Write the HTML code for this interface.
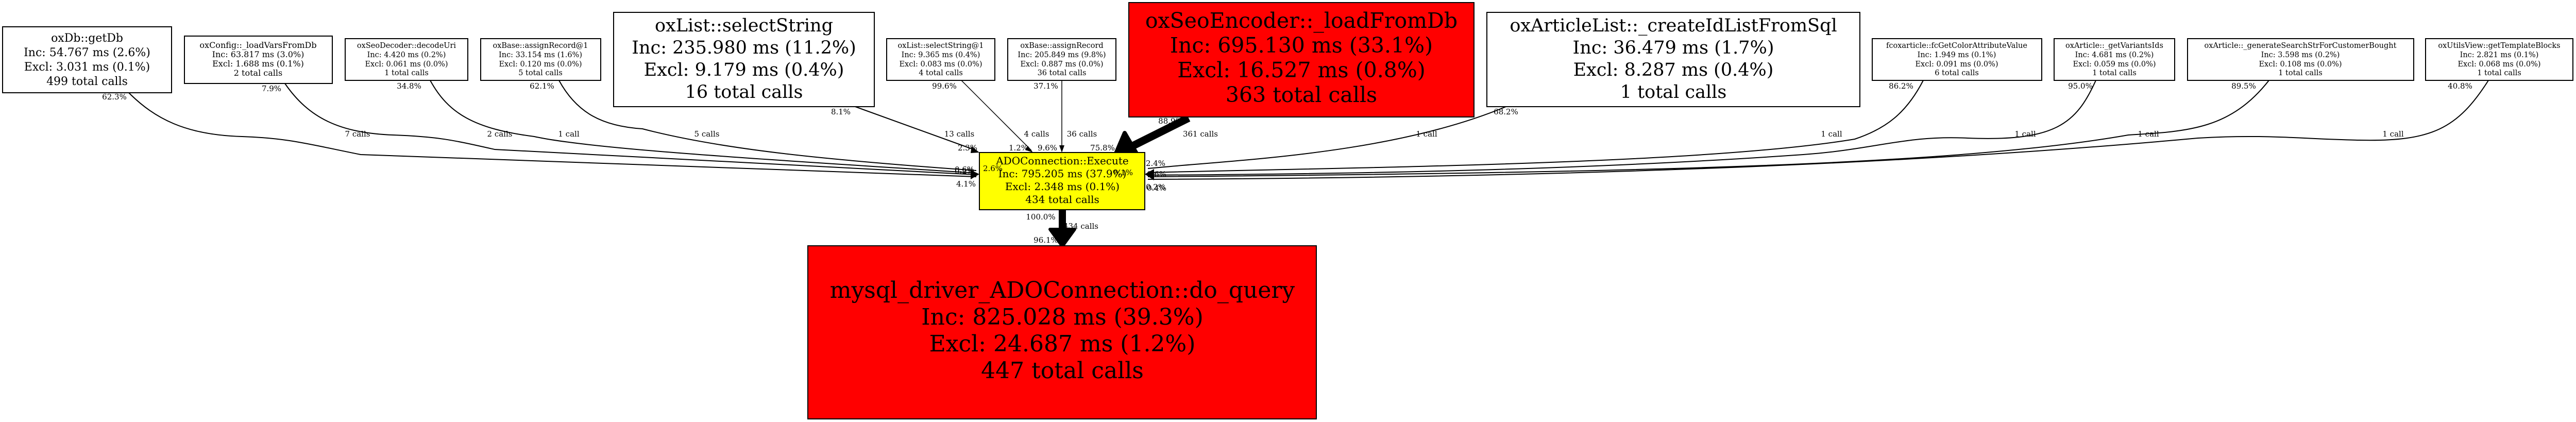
<!DOCTYPE html>
<html><head><meta charset="utf-8"><style>
html,body{margin:0;padding:0;background:#fff;}
svg{display:block;}
text{font-family:"DejaVu Serif","Liberation Serif",serif;fill:#000;}
.n{text-anchor:middle;}
.e{font-size:15px;}
</style></head><body>
<svg width="5028" height="819" viewBox="0 0 5028 819" xmlns="http://www.w3.org/2000/svg">
<rect width="5028" height="819" fill="#fff"/>
<g fill="none" stroke="#000" stroke-width="2">
<path d="M250,180 C300,230 360,262 470,265 C560,268 600,280 700,300 L1895,343"/>
<path d="M553,162 C600,230 660,258 763,262 C850,265 880,272 960,290 L1895,339"/>
<path d="M835,156 C870,220 920,250 1037,265 C1150,290 1500,310 1895,336"/>
<path d="M1085,156 C1120,220 1170,245 1247,250 C1400,290 1600,310 1895,331"/>
<path d="M1660,207 L1895,292"/>
<path d="M1866,156 L2002,292" stroke-width="1.5"/>
<path d="M2061,156 L2061,292" stroke-width="1.5"/>
<path d="M2923,207 C2700,300 2400,310 2228,327"/>
<path d="M3733,156 C3700,220 3660,250 3600,270 C3300,320 2600,325 2228,335"/>
<path d="M4068,156 C4030,240 3990,275 3819,268 C3700,262 3640,290 3500,300 C3000,335 2500,338 2228,340"/>
<path d="M4404,156 C4330,250 4250,255 4131,262 C3800,320 3200,335 2228,343"/>
<path d="M4830,156 C4770,250 4720,275 4580,272 C4470,270 4400,260 4266,268 C3700,320 3000,345 2228,348"/>
</g>
<g fill="#000">
<polygon points="1901,296 1886,284 1884,297"/>
<polygon points="2005,296 1995,283 1990,291"/>
<polygon points="2061,296 2056,282 2066,282"/>
<polygon points="1901,338 1884,330 1884,348"/>
<polygon points="2222,338 2240,328 2240,350"/>
</g>
<line x1="2307" y1="229" x2="2195" y2="285" stroke="#000" stroke-width="15"/>
<polygon points="2183,258 2212,308 2165,300" fill="#000" stroke="#000" stroke-width="8" stroke-linejoin="round"/>
<line x1="2062" y1="407" x2="2062" y2="455" stroke="#000" stroke-width="14"/>
<polygon points="2038,445 2086,445 2062,478" fill="#000" stroke="#000" stroke-width="6" stroke-linejoin="round"/>

<g stroke="#000" stroke-width="2">
<rect x="5" y="52" width="328" height="128" fill="#fff"/>
<rect x="358" y="70" width="287" height="92" fill="#fff"/>
<rect x="670" y="75" width="238" height="81" fill="#fff"/>
<rect x="933" y="75" width="233" height="81" fill="#fff"/>
<rect x="1191" y="24" width="506" height="183" fill="#fff"/>
<rect x="1721" y="75" width="210" height="81" fill="#fff"/>
<rect x="1956" y="75" width="210" height="81" fill="#fff"/>
<rect x="2191" y="5" width="670" height="222" fill="#ff0000"/>
<rect x="2886" y="24" width="724" height="183" fill="#fff"/>
<rect x="3634" y="75" width="329" height="81" fill="#fff"/>
<rect x="3987" y="75" width="234" height="81" fill="#fff"/>
<rect x="4246" y="75" width="439" height="81" fill="#fff"/>
<rect x="4708" y="75" width="286" height="81" fill="#fff"/>
<rect x="1901" y="296" width="321" height="111" fill="#ffff00"/>
<rect x="1568" y="477" width="987" height="336" fill="#ff0000"/>
</g>

<g class="n" font-size="22">
<text x="169" y="81">oxDb::getDb</text><text x="169" y="109">Inc: 54.767 ms (2.6%)</text><text x="169" y="137">Excl: 3.031 ms (0.1%)</text><text x="169" y="165">499 total calls</text>
</g>
<g class="n" font-size="16">
<text x="501" y="93">oxConfig::_loadVarsFromDb</text><text x="501" y="111">Inc: 63.817 ms (3.0%)</text><text x="501" y="129">Excl: 1.688 ms (0.1%)</text><text x="501" y="147">2 total calls</text>
</g>
<g class="n" font-size="14.5">
<text x="789" y="93">oxSeoDecoder::decodeUri</text><text x="789" y="111">Inc: 4.420 ms (0.2%)</text><text x="789" y="129">Excl: 0.061 ms (0.0%)</text><text x="789" y="146">1 total calls</text>
<text x="1049" y="93">oxBase::assignRecord@1</text><text x="1049" y="111">Inc: 33.154 ms (1.6%)</text><text x="1049" y="129">Excl: 0.120 ms (0.0%)</text><text x="1049" y="146">5 total calls</text>
<text x="1826" y="93">oxList::selectString@1</text><text x="1826" y="111">Inc: 9.365 ms (0.4%)</text><text x="1826" y="129">Excl: 0.083 ms (0.0%)</text><text x="1826" y="146">4 total calls</text>
<text x="2061" y="93">oxBase::assignRecord</text><text x="2061" y="111">Inc: 205.849 ms (9.8%)</text><text x="2061" y="129">Excl: 0.887 ms (0.0%)</text><text x="2061" y="146">36 total calls</text>
<text x="3798" y="93">fcoxarticle::fcGetColorAttributeValue</text><text x="3798" y="111">Inc: 1.949 ms (0.1%)</text><text x="3798" y="129">Excl: 0.091 ms (0.0%)</text><text x="3798" y="146">6 total calls</text>
<text x="4104" y="93">oxArticle::_getVariantsIds</text><text x="4104" y="111">Inc: 4.681 ms (0.2%)</text><text x="4104" y="129">Excl: 0.059 ms (0.0%)</text><text x="4104" y="146">1 total calls</text>
<text x="4465" y="93">oxArticle::_generateSearchStrForCustomerBought</text><text x="4465" y="111">Inc: 3.598 ms (0.2%)</text><text x="4465" y="129">Excl: 0.108 ms (0.0%)</text><text x="4465" y="146">1 total calls</text>
<text x="4851" y="93">oxUtilsView::getTemplateBlocks</text><text x="4851" y="111">Inc: 2.821 ms (0.1%)</text><text x="4851" y="129">Excl: 0.068 ms (0.0%)</text><text x="4851" y="146">1 total calls</text>
</g>
<g class="n" font-size="35">
<text x="1444" y="61">oxList::selectString</text><text x="1444" y="104">Inc: 235.980 ms (11.2%)</text><text x="1444" y="147">Excl: 9.179 ms (0.4%)</text><text x="1444" y="190">16 total calls</text>
<text x="3248" y="61">oxArticleList::_createIdListFromSql</text><text x="3248" y="104">Inc: 36.479 ms (1.7%)</text><text x="3248" y="147">Excl: 8.287 ms (0.4%)</text><text x="3248" y="190">1 total calls</text>
</g>
<g class="n" font-size="41">
<text x="2526" y="54">oxSeoEncoder::_loadFromDb</text><text x="2526" y="102">Inc: 695.130 ms (33.1%)</text><text x="2526" y="150">Excl: 16.527 ms (0.8%)</text><text x="2526" y="198">363 total calls</text>
</g>
<g class="n" font-size="20">
<text x="2062" y="319">ADOConnection::Execute</text><text x="2062" y="344">Inc: 795.205 ms (37.9%)</text><text x="2062" y="369">Excl: 2.348 ms (0.1%)</text><text x="2062" y="394">434 total calls</text>
</g>
<g class="n" font-size="44">
<text x="2062" y="578">mysql_driver_ADOConnection::do_query</text><text x="2062" y="630">Inc: 825.028 ms (39.3%)</text><text x="2062" y="682">Excl: 24.687 ms (1.2%)</text><text x="2062" y="734">447 total calls</text>
</g>

<g class="n e">
<text x="222" y="193">62.3%</text><text x="694" y="265">7 calls</text>
<text x="527" y="177">7.9%</text><text x="970" y="265">2 calls</text>
<text x="794" y="172">34.8%</text><text x="1104" y="265">1 call</text>
<text x="1052" y="172">62.1%</text><text x="1372" y="265">5 calls</text>
<text x="1632" y="222">8.1%</text><text x="1862" y="265">13 calls</text><text x="1878" y="292">2.3%</text>
<text x="1833" y="172">99.6%</text><text x="2012" y="265">4 calls</text><text x="1977" y="292">1.2%</text>
<text x="2030" y="172">37.1%</text><text x="2100" y="265">36 calls</text><text x="2033" y="292">9.6%</text>
<text x="2272" y="240">88.9%</text><text x="2330" y="265">361 calls</text><text x="2140" y="292">75.8%</text>
<text x="2923" y="222">68.2%</text><text x="2769" y="265">1 call</text>
<text x="3690" y="172">86.2%</text><text x="3555" y="265">1 call</text>
<text x="4038" y="172">95.0%</text><text x="3931" y="265">1 call</text>
<text x="4355" y="172">89.5%</text><text x="4170" y="265">1 call</text>
<text x="4775" y="172">40.8%</text><text x="4645" y="265">1 call</text>
<text x="1872" y="337">0.2%</text><text x="1872" y="334">0.6%</text><text x="1927" y="332">2.6%</text><text x="1875" y="362">4.1%</text>
<text x="2243" y="322">2.4%</text><text x="2180" y="340">0.1%</text><text x="2245" y="343">0.6%</text><text x="2243" y="368">0.2%</text><text x="2245" y="370">0.4%</text>
<text x="2020" y="426">100.0%</text><text x="2098" y="444">434 calls</text><text x="2030" y="471">96.1%</text>
</g>
</svg>
</body></html>
